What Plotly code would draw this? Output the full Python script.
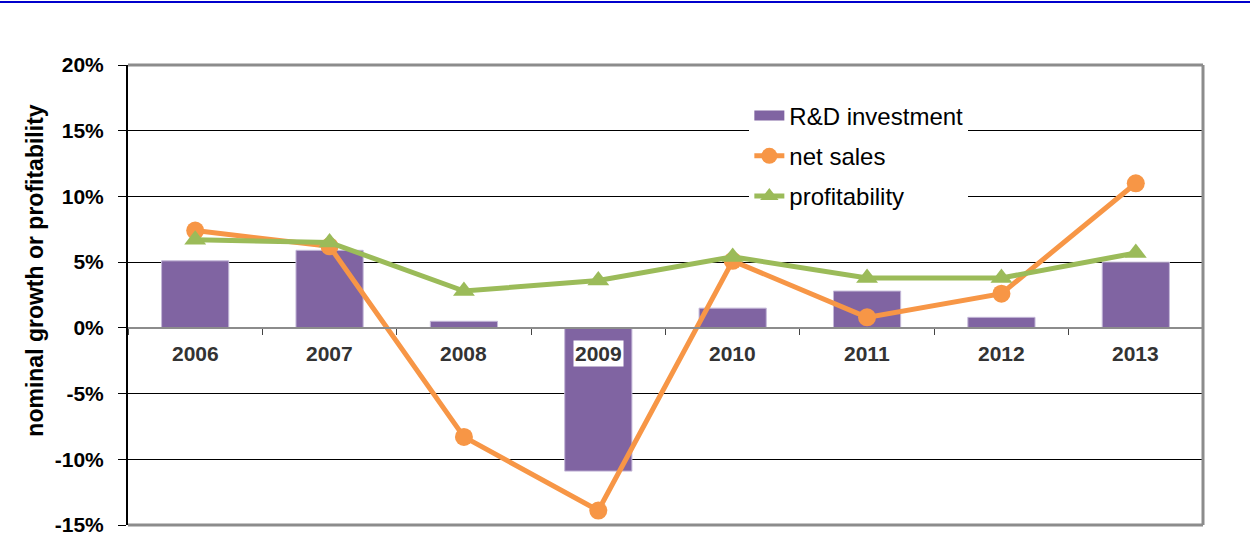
import plotly.graph_objects as go

YEARS = ["2006", "2007", "2008", "2009", "2010", "2011", "2012", "2013"]
RND_INVESTMENT = [5.1, 5.9, 0.5, -10.9, 1.5, 2.8, 0.8, 5.0]
NET_SALES = [7.4, 6.2, -8.3, -13.9, 5.1, 0.8, 2.6, 11.0]
PROFITABILITY = [6.7, 6.5, 2.8, 3.6, 5.4, 3.8, 3.8, 5.7]
Y_TICKS = [-15, -10, -5, 0, 5, 10, 15, 20]

FONT = "Arial, Liberation Sans, sans-serif"
PURPLE = "#8064A2"
ORANGE = "#F79646"
GREEN = "#9BBB59"
GREY = "#8C8C8C"

fig = go.Figure()
fig.add_trace(go.Bar(
    x=YEARS, y=RND_INVESTMENT, name="R&D investment",
    marker=dict(color=PURPLE, line=dict(color="#C4B8D8", width=1)),
    showlegend=False,
))
# legend-only entry so the bar key is a wide flat block like the original
fig.add_trace(go.Scatter(
    x=[None], y=[None], name="R&D investment", mode="lines",
    line=dict(color=PURPLE, width=14), legendgroup="a",
))
fig.add_trace(go.Scatter(
    x=YEARS, y=NET_SALES, name="net sales", mode="lines+markers",
    line=dict(color=ORANGE, width=5),
    marker=dict(symbol="circle", size=18, color=ORANGE),
    legendgroup="b",
))
fig.add_trace(go.Scatter(
    x=YEARS, y=PROFITABILITY, name="profitability", mode="lines+markers",
    line=dict(color=GREEN, width=5),
    marker=dict(symbol="triangle-up", size=19, color=GREEN),
    legendgroup="c",
))

# category labels sit just below the zero line, on a white patch
for i, yr in enumerate(YEARS):
    fig.add_annotation(
        x=i, y=0, xref="x", yref="y", text=f"<b>{yr}</b>", showarrow=False,
        yanchor="middle", yshift=-26, bgcolor="white", borderpad=1,
        font=dict(family=FONT, size=21, color="#333333"),
    )

fig.add_annotation(
    x=-0.086, y=0.552, xref="paper", yref="paper", textangle=-90,
    xanchor="center", yanchor="middle",
    text="<b>nominal growth or profitability</b>", showarrow=False,
    font=dict(family=FONT, size=23, color="black"),
)

# frame: gray top/right/bottom, blue rule at the very top of the page
for x0, y0, x1, y1 in [(0, 1, 1, 1), (1, 0, 1, 1), (0, 0, 1, 0)]:
    fig.add_shape(type="line", xref="paper", yref="paper", x0=x0, y0=y0, x1=x1, y1=y1,
                  line=dict(color=GREY, width=3), layer="above")
fig.add_shape(type="line", xref="paper", yref="paper", x0=-0.13, x1=1.06, y0=1.137, y1=1.137,
              line=dict(color="#0000CC", width=2), layer="above")

fig.update_layout(
    width=1250, height=556,
    margin=dict(l=128, r=47, t=65, b=31),
    plot_bgcolor="white", paper_bgcolor="white",
    bargap=0.5,
    font=dict(family=FONT, color="black"),
    showlegend=True,
    legend=dict(
        x=0.578, y=0.938, xanchor="left", yanchor="top",
        bgcolor="white", borderwidth=0,
        font=dict(family=FONT, size=24, color="black"),
        traceorder="grouped", tracegroupgap=6,
    ),
    xaxis=dict(
        type="category", range=[-0.5, 7.5], anchor="free", position=15 / 35,
        showline=True, linecolor=GREY, linewidth=2,
        ticks="outside", tickson="boundaries", ticklen=6, tickcolor="#444444",
        showticklabels=False, showgrid=False,
    ),
    yaxis=dict(
        range=[-15, 20], tickmode="array", tickvals=Y_TICKS,
        ticktext=[f"<b>{v}%</b>" for v in Y_TICKS],
        showgrid=True, gridcolor="black", gridwidth=1, zeroline=False,
        showline=True, linecolor="black", linewidth=2,
        ticks="outside", ticklen=8, tickcolor="black", ticklabelstandoff=10,
        tickfont=dict(family=FONT, size=21, color="black"),
    ),
)

fig.write_html("out.html", config={"displayModeBar": False},
               post_script="document.body.style.margin='0px';")
